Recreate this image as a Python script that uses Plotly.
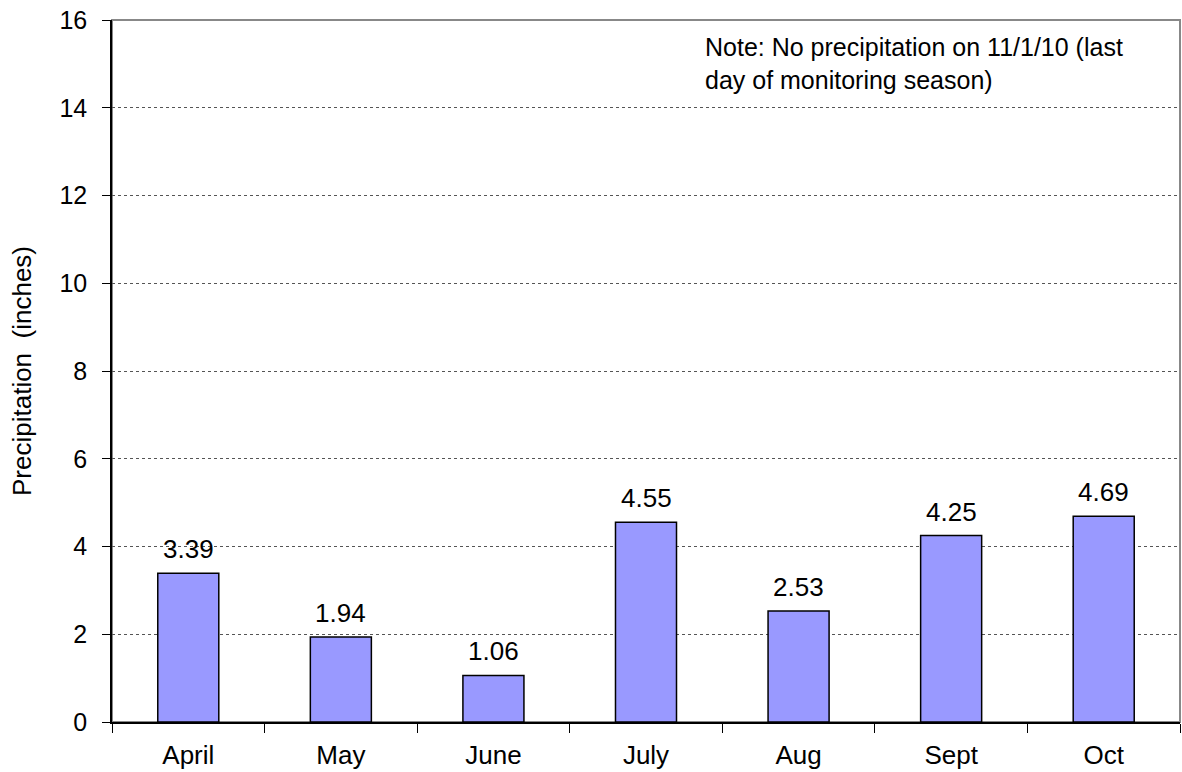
import plotly.graph_objects as go

months = ["April", "May", "June", "July", "Aug", "Sept", "Oct"]
precip = [3.39, 1.94, 1.06, 4.55, 2.53, 4.25, 4.69]
y_ticks = [0, 2, 4, 6, 8, 10, 12, 14, 16]

FONT = "Liberation Sans, Arial, sans-serif"

fig = go.Figure()
fig.add_trace(go.Bar(
    x=months,
    y=precip,
    width=0.4,
    marker=dict(color="#9999FF", line=dict(color="black", width=1.5)),
    hoverinfo="x+y",
))

# value labels sitting a little above each bar
for m, v in zip(months, precip):
    fig.add_annotation(
        x=m, y=v, text=f"{v:.2f}", showarrow=False,
        xanchor="center", yanchor="bottom", yshift=7,
        font=dict(family=FONT, size=26, color="black"),
    )

# gray frame along the top and right of the plot area
fig.add_shape(type="rect", xref="paper", yref="paper", x0=0, x1=1, y0=0, y1=1,
              line=dict(color="#888888", width=2), layer="below")

fig.add_annotation(
    xref="paper", yref="paper", x=0.553, y=0.985, xanchor="left", yanchor="top",
    text="Note: No precipitation on 11/1/10 (last<br>day of monitoring season)",
    showarrow=False, align="left",
    font=dict(family=FONT, size=25, color="black"),
)

fig.update_layout(
    width=1182, height=772,
    margin=dict(l=112, r=2, t=20, b=50),
    paper_bgcolor="white", plot_bgcolor="white",
    showlegend=False,
    font=dict(family=FONT, color="black"),
    xaxis=dict(
        tickson="boundaries", ticks="outside", ticklen=9, tickcolor="black",
        showline=True, linecolor="black", linewidth=1.5,
        tickfont=dict(size=26), showgrid=False, ticklabelstandoff=9,
    ),
    yaxis=dict(
        range=[0, 16], tickvals=y_ticks, ticks="outside", ticklen=8,
        tickcolor="black", showline=True, linecolor="black", linewidth=1.5,
        showgrid=True, gridcolor="#555555", griddash="dot", gridwidth=1,
        tickfont=dict(size=25), zeroline=False, ticklabelstandoff=10,
        title=dict(text="Precipitation  (inches)", font=dict(size=26), standoff=20),
    ),
)

fig.write_html("out.html")
